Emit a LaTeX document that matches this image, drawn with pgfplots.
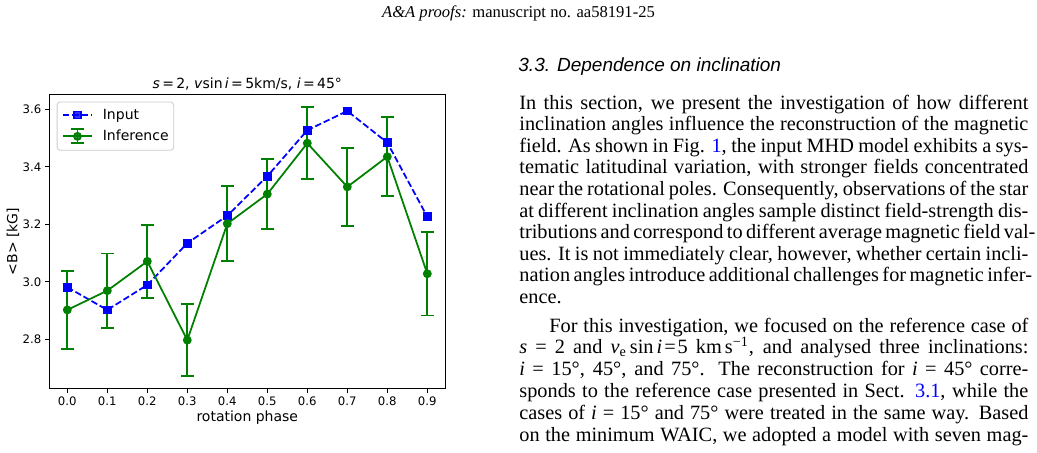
\documentclass[border=0pt]{standalone}
\usepackage{pgfplots}
\pgfplotsset{compat=1.18}
\usepackage{fontspec}
\setmainfont{Liberation Serif}
\newfontfamily\chartfont{DejaVu Sans}
\newfontfamily\helv{Liberation Sans}
\definecolor{mplblue}{RGB}{0,0,255}
\definecolor{mplgreen}{RGB}{0,128,0}
\definecolor{linkblue}{RGB}{0,0,255}
\newcommand{\jline}[1]{\makebox[254.5pt][s]{#1}}
\newcommand{\bodyfont}{\fontsize{10.15}{12}\selectfont}

\begin{document}
\begin{tikzpicture}
\useasboundingbox (0,0) rectangle (518.5pt,226pt);
% page header and text
\node[anchor=base, inner sep=0pt] at (259.25pt,217.25pt) {\fontsize{8.3}{10}\selectfont\textit{A\&A proofs:} manuscript no. aa58191-25};
\node[anchor=base west, inner sep=0pt] at (259pt,190.5pt) {\helv\itshape\fontsize{9.5}{11}\selectfont 3.3. Dependence on inclination};
\begin{scope}[every node/.style={anchor=base west, inner sep=0pt, font=\bodyfont}]
\node at (259.5pt,171.5pt) {\jline{In this section, we present the investigation of how different}};
\node at (259.5pt,160.7pt) {\jline{inclination angles influence the reconstruction of the magnetic}};
\node at (259.5pt,149.9pt) {\jline{field. As shown in Fig. {\color{linkblue}1}, the input MHD model exhibits a sys-}};
\node at (259.5pt,139.1pt) {\jline{tematic latitudinal variation, with stronger fields concentrated}};
\node at (259.5pt,128.3pt) {\jline{near the rotational poles. Consequently, observations of the star}};
\node at (259.5pt,117.5pt) {\jline{at different inclination angles sample distinct field-strength dis-}};
\node at (259.5pt,106.7pt) {\jline{tributions and correspond to different average magnetic field val-}};
\node at (259.5pt,95.9pt) {\jline{ues. It is not immediately clear, however, whether certain incli-}};
\node at (259.5pt,85.1pt) {\jline{nation angles introduce additional challenges for magnetic infer-}};
\node at (259.5pt,74.3pt) {ence.};
\node at (274.5pt,60pt) {\makebox[239.5pt][s]{For this investigation, we focused on the reference case of}};
\node at (259.5pt,49.1pt) {\jline{\textit{s} = 2 and \textit{v}\textsubscript{e}\kern1.5pt sin\kern1.5pt\textit{i}\kern1pt=\kern1pt5 km\kern1.5pt s\textsuperscript{−1}, and analysed three inclinations:}};
\node at (259.5pt,38.2pt) {\jline{\textit{i} = 15°, 45°, and 75°. The reconstruction for \textit{i} = 45° corre-}};
\node at (259.5pt,27.3pt) {\jline{sponds to the reference case presented in Sect. {\color{linkblue}3.1}, while the}};
\node at (259.5pt,16.4pt) {\jline{cases of \textit{i} = 15° and 75° were treated in the same way. Based}};
\node at (259.5pt,5.5pt) {\jline{on the minimum WAIC, we adopted a model with seven mag-}};
\end{scope}

\begin{axis}[
  at={(24.65pt,31.65pt)}, anchor=south west,
  scale only axis, width=198pt, height=147.2pt,
  xmin=-0.045, xmax=0.945, ymin=2.628, ymax=3.652,
  xtick={0,0.1,0.2,0.3,0.4,0.5,0.6,0.7,0.8,0.9},
  xticklabels={0.0,0.1,0.2,0.3,0.4,0.5,0.6,0.7,0.8,0.9},
  ytick={2.8,3.0,3.2,3.4,3.6},
  yticklabels={2.8,3.0,3.2,3.4,3.6},
  tick align=outside, xtick pos=lower, ytick pos=left,
  major tick length=2.05pt,
  tick style={black, line width=0.47pt},
  axis line style={line width=0.47pt},
  xticklabel style={font=\chartfont\fontsize{5.85}{7}\selectfont, anchor=base, inner sep=0pt, yshift=-6.1pt},
  yticklabel style={font=\chartfont\fontsize{5.85}{7}\selectfont, anchor=east, inner sep=0pt, xshift=-1.75pt},
  every axis title shift=0pt,
  title={\textit{s}\,=\,2, \textit{v}sin\,\textit{i}\,=\,5km/s, \textit{i}\,=\,45°},
  title style={font=\chartfont\fontsize{7}{8.4}\selectfont, at={(axis description cs:0.5,1)}, anchor=base, inner sep=0pt, yshift=2.7pt},
  xlabel={rotation phase},
  xlabel style={font=\chartfont\fontsize{7}{8.4}\selectfont, at={(axis description cs:0.5,0)}, anchor=base, inner sep=0pt, yshift=-16.4pt},
  ylabel={<B> [kG]},
  every axis y label/.style={font=\chartfont\fontsize{7}{8.4}\selectfont, at={(axis description cs:-0.0917,0.5)}, rotate=90, anchor=center, inner sep=0pt},
  legend cell align=left,
  legend style={at={(axis description cs:0.0187,0.975)}, anchor=north west,
    draw=black!20, rounded corners=1.5pt, fill=white, fill opacity=0.8, text opacity=1,
    font=\chartfont\fontsize{7}{8.4}\selectfont,
    inner xsep=2.5pt, inner ysep=3pt, row sep=3.2pt, column sep=5pt,
    nodes={inner xsep=0pt, inner ysep=0pt, text height=5.5pt, text depth=1.5pt}},
]
\addplot[mplblue, line width=0.88pt, dash pattern=on 3.25pt off 1.4pt,
  mark=square*, mark size=1.75pt, mark options={solid, fill=mplblue, draw=mplblue},
  legend image code/.code={
    \draw[mplblue, line width=0.88pt, dash pattern=on 3.25pt off 1.4pt, mark=square*, mark size=1.75pt, mark options={solid, fill=mplblue}, mark repeat=2, mark phase=2] plot coordinates {(0pt,0pt) (7.25pt,0pt) (14.5pt,0pt)};
  }]
coordinates {
(0.0,2.981) (0.1,2.902) (0.2,2.989) (0.3,3.134) (0.4,3.230)
(0.5,3.367) (0.6,3.527) (0.7,3.594) (0.8,3.484) (0.9,3.226)
};
\addlegendentry{Input}
\addplot[mplgreen, line width=0.88pt, mark=*, mark size=1.75pt,
  mark options={solid, fill=mplgreen, draw=mplgreen},
  legend image code/.code={
    \draw[mplgreen, line width=0.88pt] (7.25pt,-3.5pt) -- (7.25pt,3.5pt);
    \draw[mplgreen, line width=0.88pt] (4pt,-3.5pt) -- (10.5pt,-3.5pt);
    \draw[mplgreen, line width=0.88pt] (4pt,3.5pt) -- (10.5pt,3.5pt);
    \draw[mplgreen, line width=0.88pt, mark=*, mark size=1.75pt, mark options={fill=mplgreen}, mark repeat=2, mark phase=2] plot coordinates {(0pt,0pt) (7.25pt,0pt) (14.5pt,0pt)};
  },
  error bars/.cd, y dir=both, y explicit,
  error bar style={line width=0.88pt, mplgreen},
  error mark options={rotate=90, mark size=3.25pt, line width=0.88pt, mplgreen}]
coordinates {
(0.0,2.902) +- (0,0.135)
(0.1,2.969) +- (0,0.129)
(0.2,3.071) +- (0,0.127)
(0.3,2.797) +- (0,0.126)
(0.4,3.202) +- (0,0.130)
(0.5,3.305) +- (0,0.122)
(0.6,3.482) +- (0,0.125)
(0.7,3.330) +- (0,0.135)
(0.8,3.435) +- (0,0.138)
(0.9,3.028) +- (0,0.145)
};
\addlegendentry{Inference}
\end{axis}
\end{tikzpicture}
\end{document}
